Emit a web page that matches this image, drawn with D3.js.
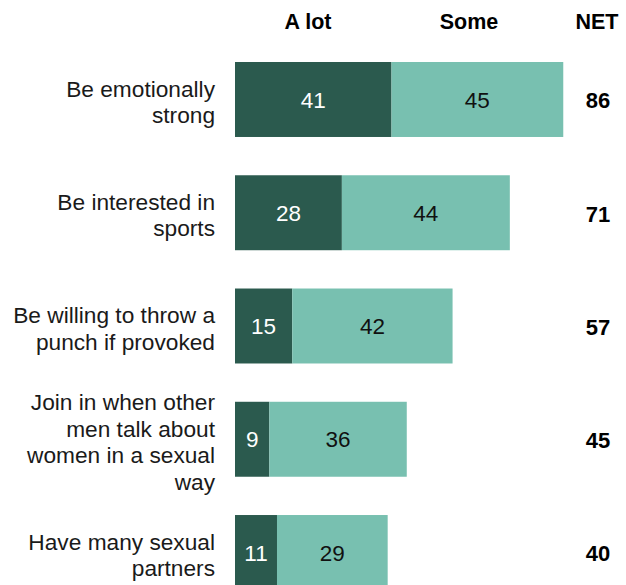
<!DOCTYPE html>
<html>
<head>
<meta charset="utf-8">
<script src="https://cdn.jsdelivr.net/npm/d3@7"></script>
<style>
  html, body { margin: 0; padding: 0; background: #fff; }
  svg { display: block; font-family: "Liberation Sans", Arial, sans-serif; }
</style>
</head>
<body>
<svg id="chart" width="626" height="585"></svg>
<script>
// Traits, split into label lines
const categories = [
  ["Be emotionally", "strong"],
  ["Be interested in", "sports"],
  ["Be willing to throw a", "punch if provoked"],
  ["Join in when other", "men talk about", "women in a sexual", "way"],
  ["Have many sexual", "partners"]
];
const aLot = [41, 28, 15, 9, 11];
const some = [45, 44, 42, 36, 29];
const net = [86, 71, 57, 45, 40];
const headers = ["A lot", "Some", "NET"];

const colors = { aLot: "#2b5a4e", some: "#78c0b0" };

const svg = d3.select("#chart");
const keys = categories.map((c, i) => i);

const x = d3.scaleLinear().domain([0, 100]).range([235, 616.7]);
const y = d3.scaleBand().domain(keys).range([62, 590]).paddingInner(0.338).paddingOuter(0);

const rows = keys.map(i => ({ i, lines: categories[i], a: aLot[i], s: some[i], net: net[i] }));

// Column headers
const headerX = [308, 469, 597];
svg.selectAll("text.hdr").data(headers).join("text")
  .attr("class", "hdr")
  .attr("x", (d, i) => headerX[i])
  .attr("y", 29)
  .attr("text-anchor", "middle")
  .attr("font-size", 21.5)
  .attr("font-weight", "bold")
  .attr("fill", "#000")
  .text(d => d);

const g = svg.selectAll("g.row").data(rows).join("g").attr("class", "row");

// A lot segment
g.append("rect")
  .attr("x", x(0))
  .attr("y", d => y(d.i))
  .attr("width", d => x(d.a) - x(0))
  .attr("height", y.bandwidth())
  .attr("fill", colors.aLot);

// Some segment
g.append("rect")
  .attr("x", d => x(d.a))
  .attr("y", d => y(d.i))
  .attr("width", d => x(d.a + d.s) - x(d.a))
  .attr("height", y.bandwidth())
  .attr("fill", colors.some);

// Segment values
g.append("text")
  .attr("x", d => (x(0) + x(d.a)) / 2)
  .attr("y", d => y(d.i) + y.bandwidth() / 2)
  .attr("dy", "0.36em")
  .attr("text-anchor", "middle")
  .attr("font-size", 22.5)
  .attr("fill", "#fff")
  .text(d => d.a);

g.append("text")
  .attr("x", d => (x(d.a) + x(d.a + d.s)) / 2)
  .attr("y", d => y(d.i) + y.bandwidth() / 2)
  .attr("dy", "0.36em")
  .attr("text-anchor", "middle")
  .attr("font-size", 22.5)
  .attr("fill", "#111")
  .text(d => d.s);

// NET column
g.append("text")
  .attr("x", headerX[2] + 1)
  .attr("y", d => y(d.i) + y.bandwidth() / 2 + 1)
  .attr("dy", "0.36em")
  .attr("text-anchor", "middle")
  .attr("font-size", 22)
  .attr("font-weight", "bold")
  .attr("fill", "#000")
  .text(d => d.net);

// Category labels, multi-line, right aligned
const lineH = 26.5;
g.append("text")
  .attr("text-anchor", "end")
  .attr("font-size", 22.7)
  .attr("fill", "#1a1a1a")
  .each(function(d) {
    const t = d3.select(this);
    const n = d.lines.length;
    const cy = y(d.i) + y.bandwidth() / 2 + 3;
    const first = cy - (n - 1) * lineH / 2 + 7.5;
    d.lines.forEach((ln, k) => {
      t.append("tspan").attr("x", 215).attr("y", first + k * lineH).text(ln);
    });
  });
</script>
</body>
</html>
